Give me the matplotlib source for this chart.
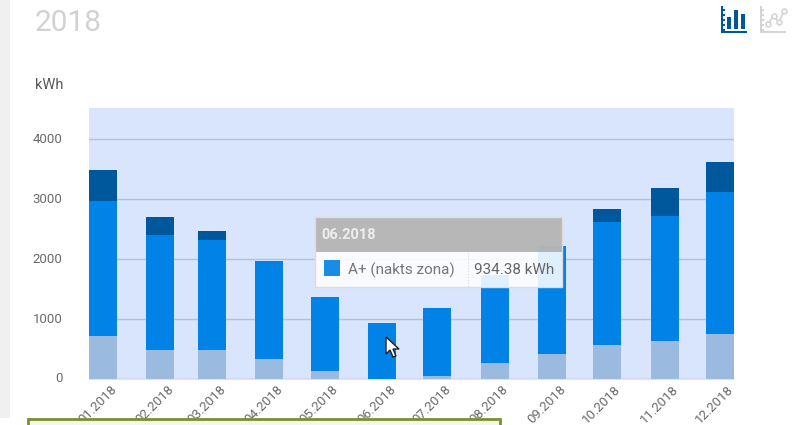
import matplotlib
matplotlib.use("Agg")
import matplotlib.pyplot as plt
import matplotlib.dates as mdates
import pandas as pd
from matplotlib.patches import Rectangle, Polygon
from matplotlib.transforms import ScaledTranslation

plt.rcParams["font.family"] = ["Roboto", "DejaVu Sans"]

months = ["01.2018", "02.2018", "03.2018", "04.2018", "05.2018", "06.2018",
          "07.2018", "08.2018", "09.2018", "10.2018", "11.2018", "12.2018"]
# stacked from bottom to top
light_vals = [711, 485, 470, 318, 125, 0, 40, 260, 410, 560, 628, 745]
mid_vals = [2259, 1915, 1855, 1647, 1240, 934.38, 1140, 1470, 1805, 2060, 2092, 2375]
dark_vals = [520, 300, 145, 0, 0, 0, 0, 0, 0, 225, 465, 500]
y_ticks = [0, 1000, 2000, 3000, 4000]

fig = plt.figure(figsize=(7.94, 4.25), dpi=100)

W, H = 794, 425
ax = fig.add_axes([89 / W, 1 - 378.5 / H, 645 / W, 270.5 / H])
ax.set_facecolor("#d9e5fc")

# the axis is a real time axis, so february sits closer to march
x = mdates.date2num(pd.to_datetime(months, format="%m.%Y"))
bar_w = 15.2
bottom_mid = light_vals
bottom_dark = [a + b for a, b in zip(light_vals, mid_vals)]
ax.bar(x, light_vals, width=bar_w, color="#9abbdf", zorder=3)
ax.bar(x, mid_vals, width=bar_w, bottom=bottom_mid, color="#0082e6", zorder=3)
ax.bar(x, dark_vals, width=bar_w, bottom=bottom_dark, color="#00589c", zorder=3)

ax.set_xlim(x[0] - bar_w / 2, x[-1] + bar_w / 2)
ax.set_ylim(0, 4527)
ax.set_yticks(y_ticks)
ax.set_xticks(x)
ax.set_xticklabels(months, rotation=45, ha="right", rotation_mode="anchor")
ax.tick_params(axis="both", length=0, labelsize=9.5, labelcolor="#6a6a6a")
ax.tick_params(axis="y", pad=19)
ax.tick_params(axis="x", pad=3)
for lab in ax.get_xticklabels():
    lab.set_transform(lab.get_transform() + ScaledTranslation(7 / 100, 0, fig.dpi_scale_trans))
for lab in ax.get_yticklabels():
    lab.set_transform(lab.get_transform() + ScaledTranslation(0, 1 / 100, fig.dpi_scale_trans))
ax.grid(axis="y", color="#b4c0d9", lw=1, zorder=1)
for s in ["top", "right", "left"]:
    ax.spines[s].set_visible(False)
ax.spines["bottom"].set_color("#dfe3ee")

# page furniture in pixel coordinates
ov = fig.add_axes([0, 0, 1, 1], zorder=5)
ov.set_xlim(0, W)
ov.set_ylim(H, 0)
ov.axis("off")
ov.patch.set_alpha(0)

ov.add_patch(Rectangle((0, 0), 10, 418, color="#f0f0f0", lw=0))
ov.text(34.5, 23, "2018", fontsize=21.5, color="#d2d2d2", va="center", ha="left")
ov.text(35, 85, "kWh", fontsize=10.5, color="#5a5a5a", va="center", ha="left")

# tooltip
ov.add_patch(Rectangle((315, 217), 247, 35, color="#b6b6b6", alpha=0.97, lw=0))
ov.add_patch(Rectangle((315, 252), 247, 35, facecolor="white", alpha=0.88, lw=0))
ov.add_patch(Rectangle((315, 217), 247, 70, fill=False, edgecolor="#dcdcdc", lw=1))
ov.plot([468, 468], [253, 287], color="#d8d8d8", lw=0.8, ls=":")
ov.text(321, 235, "06.2018", fontsize=10.5, fontweight="bold", color="#eeeeee", va="center")
ov.add_patch(Rectangle((323.5, 260), 16, 16, color="#1a8ce6", lw=0))
ov.text(348, 270, "A+ (nakts zona)", fontsize=11, color="#777777", va="center")
ov.text(474, 270, "934.38 kWh", fontsize=11, color="#666666", va="center")

# cursor
ov.add_patch(Polygon([(386, 337), (386, 354), (390, 350), (393, 357), (396, 356),
                      (393, 349), (399, 349)], closed=True,
                     facecolor="white", edgecolor="#222222", lw=1))

# bar chart icon
blue = "#00589c"
ov.add_patch(Rectangle((721, 6), 2, 27, color=blue, lw=0))
ov.add_patch(Rectangle((721, 31), 26, 2, color=blue, lw=0))
for i in [9, 14, 19, 24, 29]:
    ov.add_patch(Rectangle((723, i), 2, 1.5, color=blue, lw=0))
for bx, by in [(727, 17), (734, 10), (741, 14)]:
    ov.add_patch(Rectangle((bx, by), 4, 29 - by, color=blue, lw=0))

# line chart icon
grey = "#d4d4d4"
ov.add_patch(Rectangle((760, 6), 2, 27, color=grey, lw=0))
ov.add_patch(Rectangle((760, 31), 26, 2, color=grey, lw=0))
for i in [9, 14, 19, 24, 29]:
    ov.add_patch(Rectangle((762, i), 2, 1.5, color=grey, lw=0))
ov.plot([768, 773.5, 779, 784], [24, 16, 22, 11], color=grey, lw=1.2,
        marker="o", ms=3.5, mfc="white", mec=grey, mew=1.2)

# green box along the bottom edge
ov.add_patch(Rectangle((28, 419), 472, 12, facecolor="#f5f7e8", edgecolor="#7a9030", lw=2, zorder=6))

fig.savefig("out.png", dpi=100)
